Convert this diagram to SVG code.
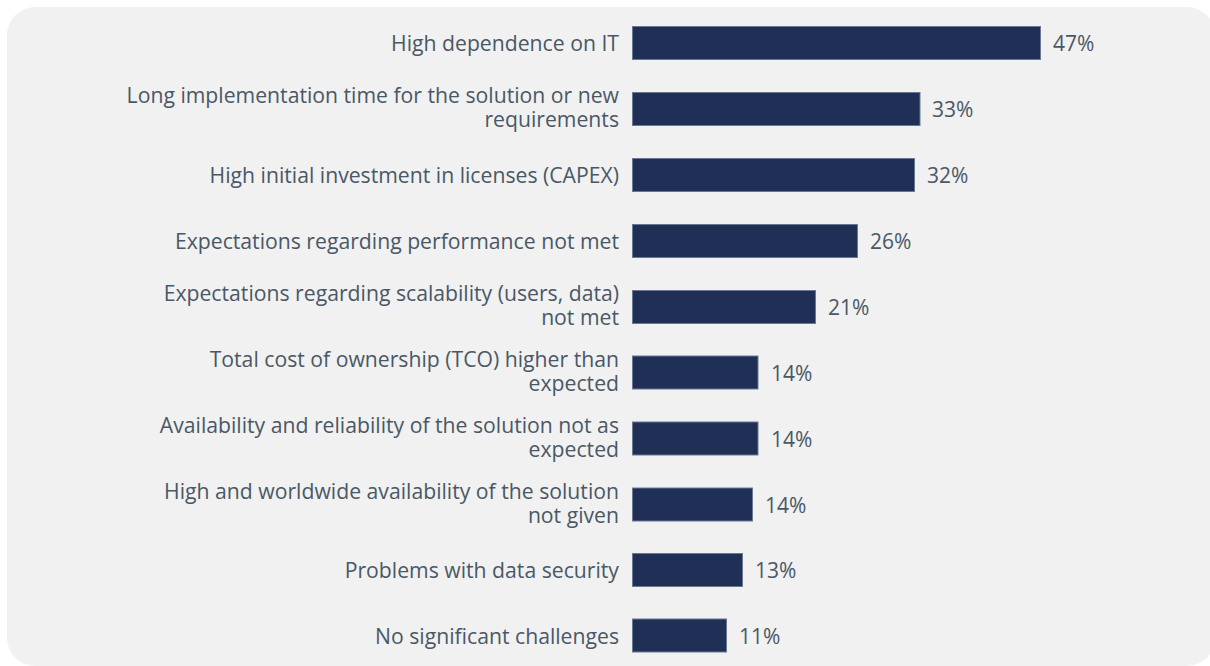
<svg xmlns="http://www.w3.org/2000/svg" width="1210" height="666" viewBox="0 0 1210 666">
<style>
.lbl{font-family:"Open Sans","Noto Sans",sans-serif;font-size:21.2px;fill:#4a5866;text-anchor:end}
.val{font-family:"Open Sans","Noto Sans",sans-serif;font-size:21px;fill:#4a5866}
.bar{fill:#1f2f56;stroke:#6a7893;stroke-width:1}
</style>
<rect x="7" y="7" width="1208" height="659" rx="28" fill="#f1f1f1"/>
<g id="row1"><text class="lbl" x="619" y="51">High dependence on IT</text><rect class="bar" x="632.5" y="26.5" width="408" height="33"/><text class="val" x="1053" y="51">47%</text></g>
<g id="row2"><text class="lbl" x="619" y="103">Long implementation time for the solution or new</text><text class="lbl" x="619" y="127">requirements</text><rect class="bar" x="632.5" y="92.5" width="287.5" height="33"/><text class="val" x="932" y="117">33%</text></g>
<g id="row3"><text class="lbl" x="619" y="183">High initial investment in licenses (CAPEX)</text><rect class="bar" x="632.5" y="158.5" width="282" height="33"/><text class="val" x="927" y="183">32%</text></g>
<g id="row4"><text class="lbl" x="619" y="249">Expectations regarding performance not met</text><rect class="bar" x="632.5" y="224.5" width="225" height="33"/><text class="val" x="870" y="249">26%</text></g>
<g id="row5"><text class="lbl" x="619" y="301">Expectations regarding scalability (users, data)</text><text class="lbl" x="619" y="325">not met</text><rect class="bar" x="632.5" y="290.5" width="183" height="33"/><text class="val" x="828" y="315">21%</text></g>
<g id="row6"><text class="lbl" x="619" y="367">Total cost of ownership (TCO) higher than</text><text class="lbl" x="619" y="391">expected</text><rect class="bar" x="632.5" y="356" width="125.5" height="33"/><text class="val" x="771" y="381">14%</text></g>
<g id="row7"><text class="lbl" x="619" y="433">Availability and reliability of the solution not as</text><text class="lbl" x="619" y="457">expected</text><rect class="bar" x="632.5" y="422" width="125.5" height="33"/><text class="val" x="771" y="447">14%</text></g>
<g id="row8"><text class="lbl" x="619" y="499">High and worldwide availability of the solution</text><text class="lbl" x="619" y="523">not given</text><rect class="bar" x="632.5" y="488" width="120" height="33"/><text class="val" x="765" y="513">14%</text></g>
<g id="row9"><text class="lbl" x="619" y="578">Problems with data security</text><rect class="bar" x="632.5" y="553.5" width="110" height="33"/><text class="val" x="755" y="578">13%</text></g>
<g id="row10"><text class="lbl" x="619" y="644">No significant challenges</text><rect class="bar" x="632.5" y="619" width="94" height="33"/><text class="val" x="739" y="644">11%</text></g>
<g id="connectors"></g>
</svg>
